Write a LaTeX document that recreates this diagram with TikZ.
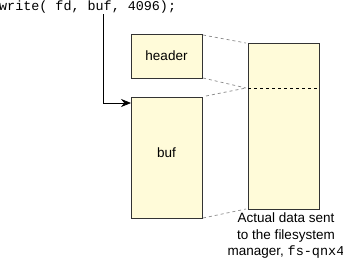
\documentclass[tikz,border=0pt]{standalone}
\usepackage{fontspec}
\setmainfont{Liberation Sans}
\newfontfamily\codefont{Liberation Mono}
\usetikzlibrary{arrows.meta}
\definecolor{paper}{HTML}{FFFBD9}
\definecolor{edge}{HTML}{333333}
\definecolor{guide}{HTML}{8A8A8A}
\tikzset{
  block/.style={draw=edge, fill=paper, line width=0.9pt},
  label/.style={font=\fontsize{13.5}{16}\selectfont, text=black},
  guideline/.style={draw=guide, line width=0.7pt, dash pattern=on 3pt off 3pt},
  split/.style={draw=black, line width=0.7pt, dash pattern=on 3pt off 3pt},
  pointer/.style={draw=black, line width=0.7pt, -{Stealth[length=10pt,width=8pt]}}
}
\begin{document}
\begin{tikzpicture}[x=1pt,y=-1pt]
  \useasboundingbox (0,0) rectangle (343,260);

  % the call that hands buf to write()
  \node[anchor=base west, inner sep=0pt, font=\codefont\fontsize{13.4}{16}\selectfont] (code) at (-1,10.5) {write( fd, buf, 4096);};

  % message pieces on the client side
  \draw[block] (131,34) rectangle (202,78);
  \node[label] (header) at (166.5,56) {header};
  \draw[block] (131,97) rectangle (202,218);
  \node[label] (buf) at (166.5,153) {buf};

  % assembled message received by the filesystem manager
  \draw[block] (248,43) rectangle (319,209);
  \draw[split] (248,88) -- (319,88);

  % guides from each piece to its place in the message
  \coordinate (hTop) at (203,35);
  \coordinate (hBot) at (203,78);
  \coordinate (bTop) at (206,96);
  \coordinate (bBot) at (203,218);
  \coordinate (mTop) at (246,43);
  \coordinate (mMid) at (246,88);
  \coordinate (mBot) at (246,209);
  \draw[guideline] (hTop) -- (mTop);
  \draw[guideline] (hBot) -- (mMid);
  \draw[guideline] (bTop) -- (mMid);
  \draw[guideline] (bBot) -- (mBot);

  % pointer from the buf argument to the buffer
  \coordinate (argBuf) at (103,14);
  \coordinate (bufIn) at (131,103);
  \draw[pointer] (argBuf) |- (bufIn);

  % caption
  \node[label, align=center, anchor=north, inner sep=0pt, font=\fontsize{13.5}{16.5}\selectfont] (caption) at (286,213)
    {Actual data sent\\to the filesystem\\manager, {\codefont fs-qnx4}};
\end{tikzpicture}
\end{document}
